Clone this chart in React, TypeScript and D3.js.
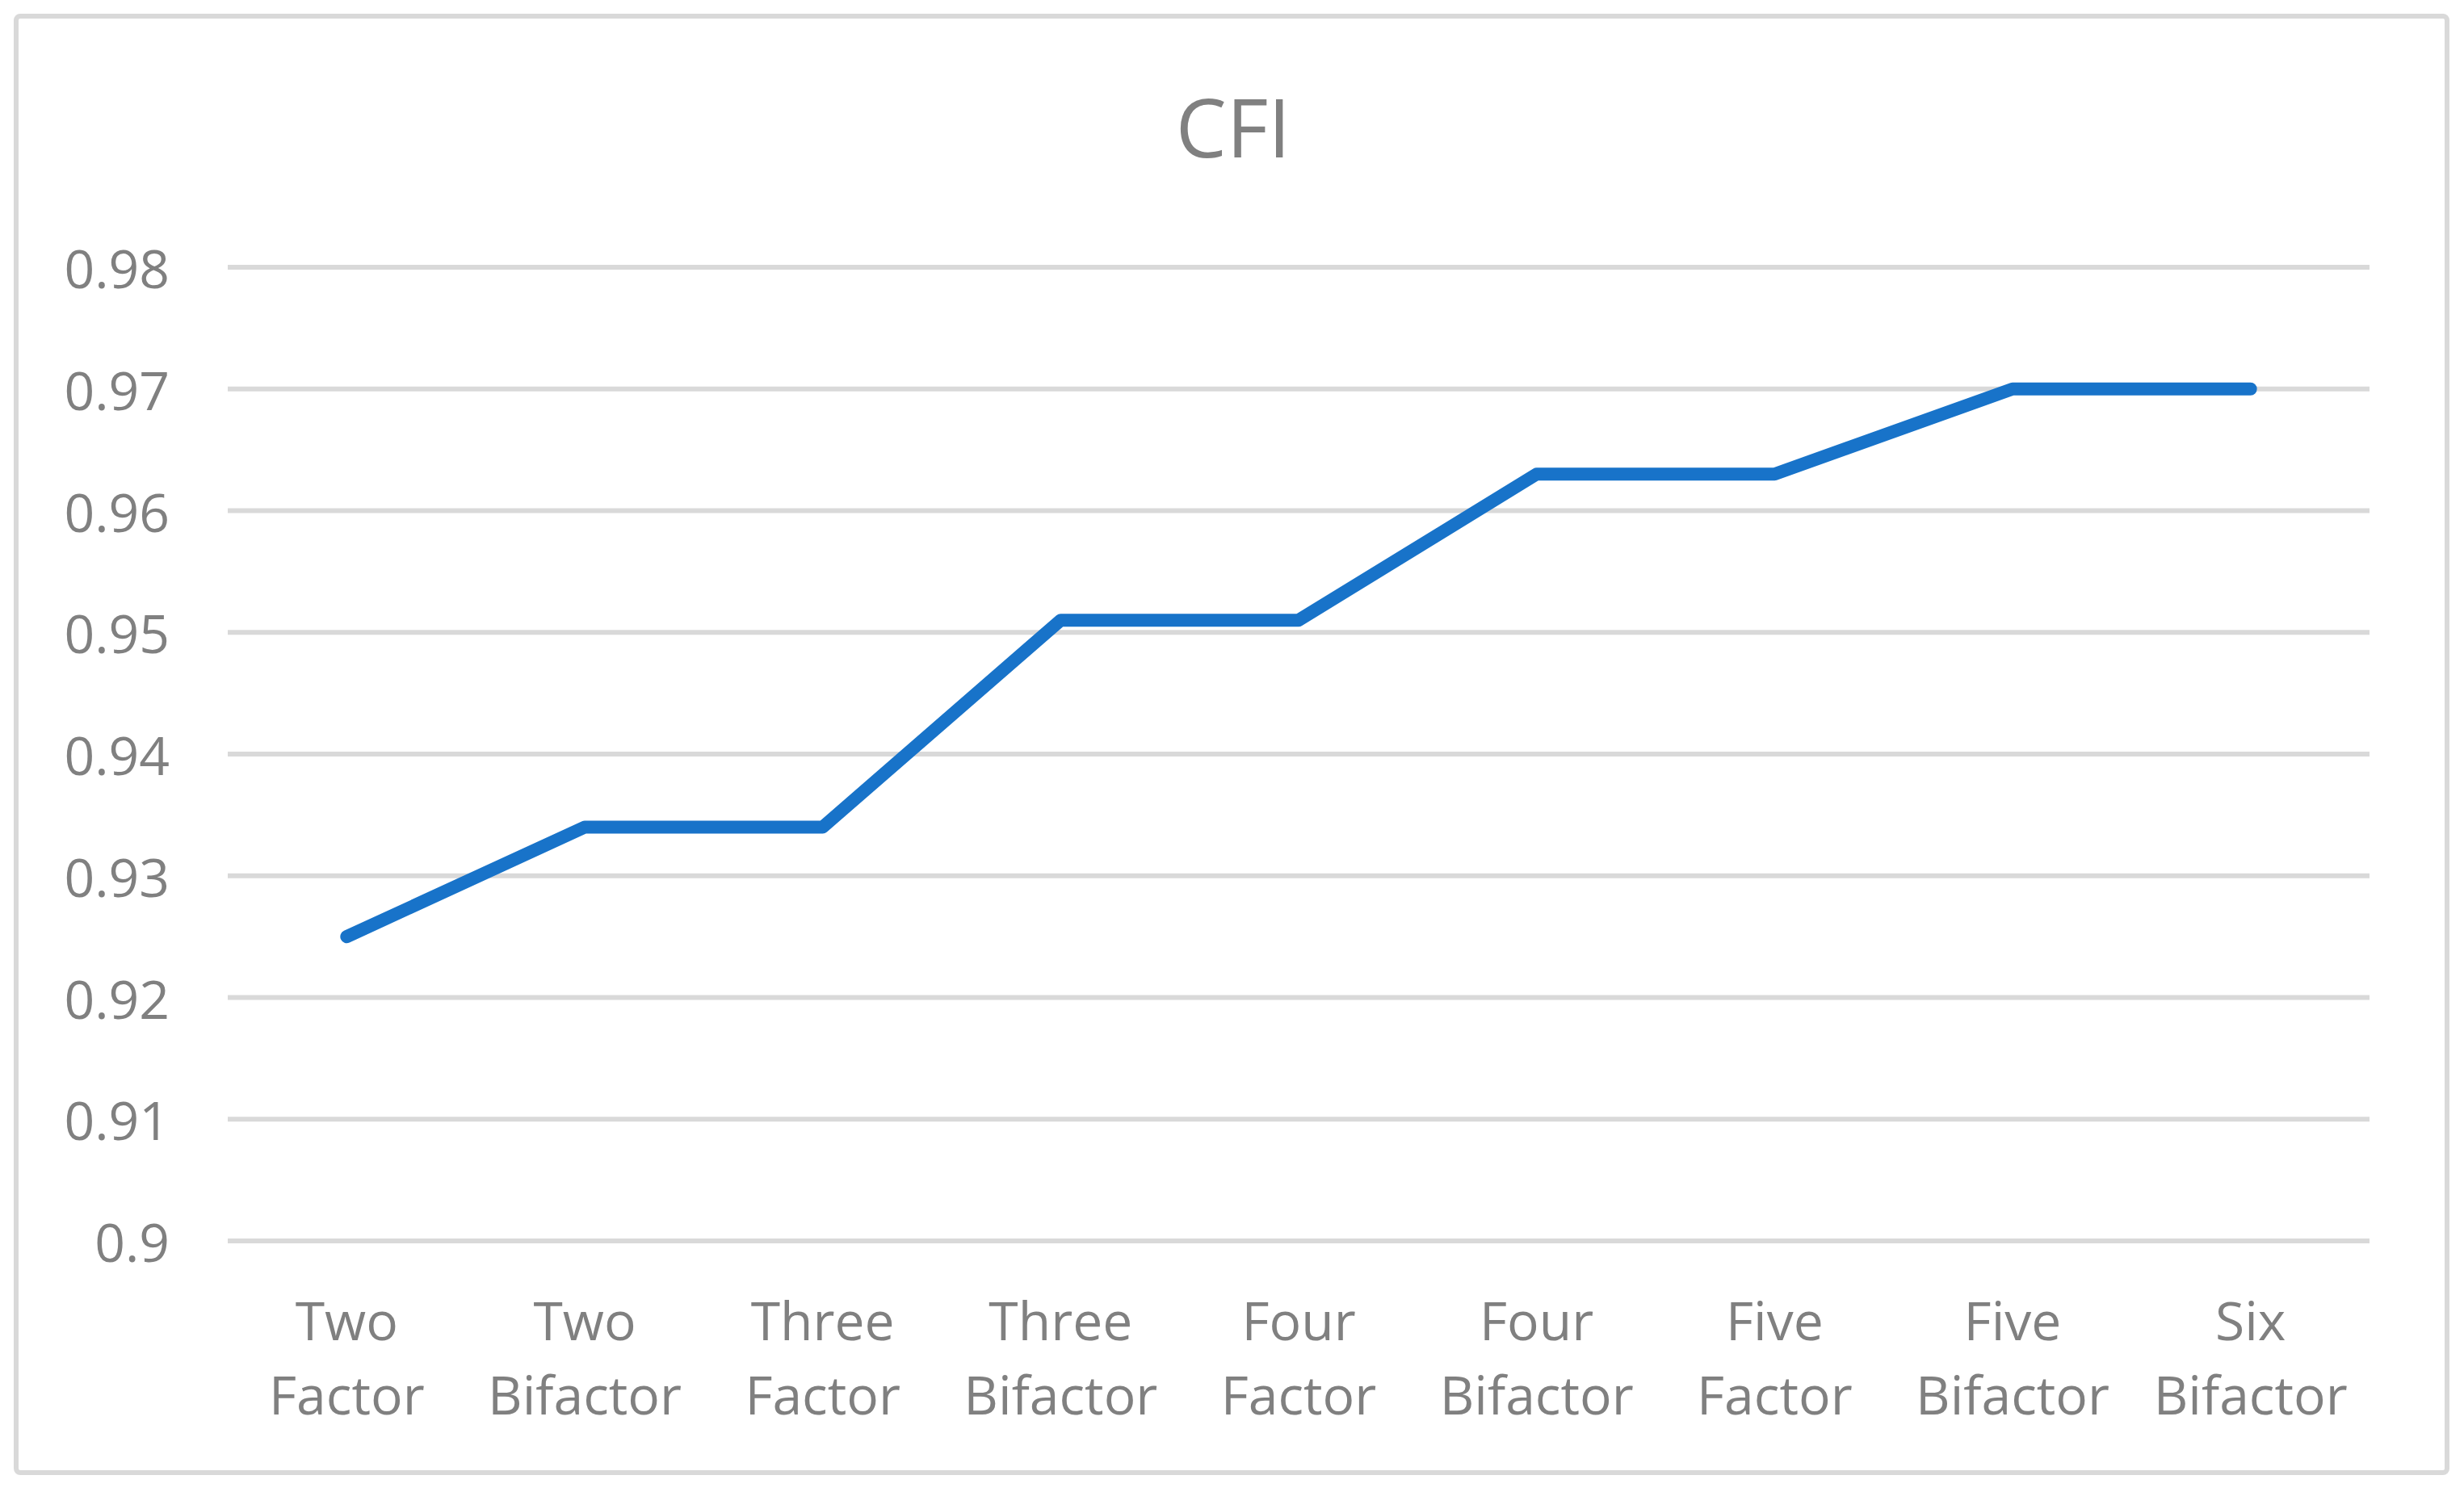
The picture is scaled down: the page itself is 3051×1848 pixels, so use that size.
import React from 'react';
import * as d3 from 'd3';

// chart values
const categories = [
  ['Two', 'Factor'],
  ['Two', 'Bifactor'],
  ['Three', 'Factor'],
  ['Three', 'Bifactor'],
  ['Four', 'Factor'],
  ['Four', 'Bifactor'],
  ['Five', 'Factor'],
  ['Five', 'Bifactor'],
  ['Six', 'Bifactor'],
];
const cfi = [0.925, 0.934, 0.934, 0.951, 0.951, 0.963, 0.963, 0.97, 0.97];
const yTicks = [0.9, 0.91, 0.92, 0.93, 0.94, 0.95, 0.96, 0.97, 0.98];

const W = 3051;
const H = 1848;
const left = 282, right = 2934, top = 331, bottom = 1537;
const font = '"Open Sans", "Noto Sans", sans-serif';
const grey = '#808080';

export default function App() {
  const names = categories.map(c => c.join(' '));
  const x = d3.scaleBand().domain(names).range([left, right]).padding(0);
  const y = d3.scaleLinear().domain([0.9, 0.98]).range([bottom, top]);

  const path = d3.line<number>()
    .x((d, i) => (x(names[i]) as number) + x.bandwidth() / 2)
    .y(d => y(d))(cfi);

  return (
    <svg width={W} height={H} style={{ position: 'absolute', left: 0, top: 0, background: '#fff' }}>
      <rect x={0} y={0} width={W} height={H} fill="#fff" />
      <rect x={20} y={20} width={3010} height={1804} rx={5} fill="#fff" stroke="#d9d9d9" strokeWidth={6} />

      <text x={1527} y={156} textAnchor="middle" dominantBaseline="central"
        fontFamily={font} fontSize={100} fill={grey}>CFI</text>

      {yTicks.map(t => (
        <g key={t}>
          <line x1={left} x2={right} y1={y(t)} y2={y(t)} stroke="#d9d9d9" strokeWidth={6} />
          <text x={210} y={y(t)} textAnchor="end" dominantBaseline="central"
            fontFamily={font} fontSize={66} fill={grey}>{String(t)}</text>
        </g>
      ))}

      {categories.map((c, i) => {
        const cx = (x(names[i]) as number) + x.bandwidth() / 2;
        return (
          <text key={i} textAnchor="middle" fontFamily={font} fontSize={66} fill={grey}>
            <tspan x={cx} y={1634} dominantBaseline="central">{c[0]}</tspan>
            <tspan x={cx} y={1726} dominantBaseline="central">{c[1]}</tspan>
          </text>
        );
      })}

      <path d={path ?? ''} fill="none" stroke="#1873c9" strokeWidth={16}
        strokeLinecap="round" strokeLinejoin="round" />
    </svg>
  );
}
